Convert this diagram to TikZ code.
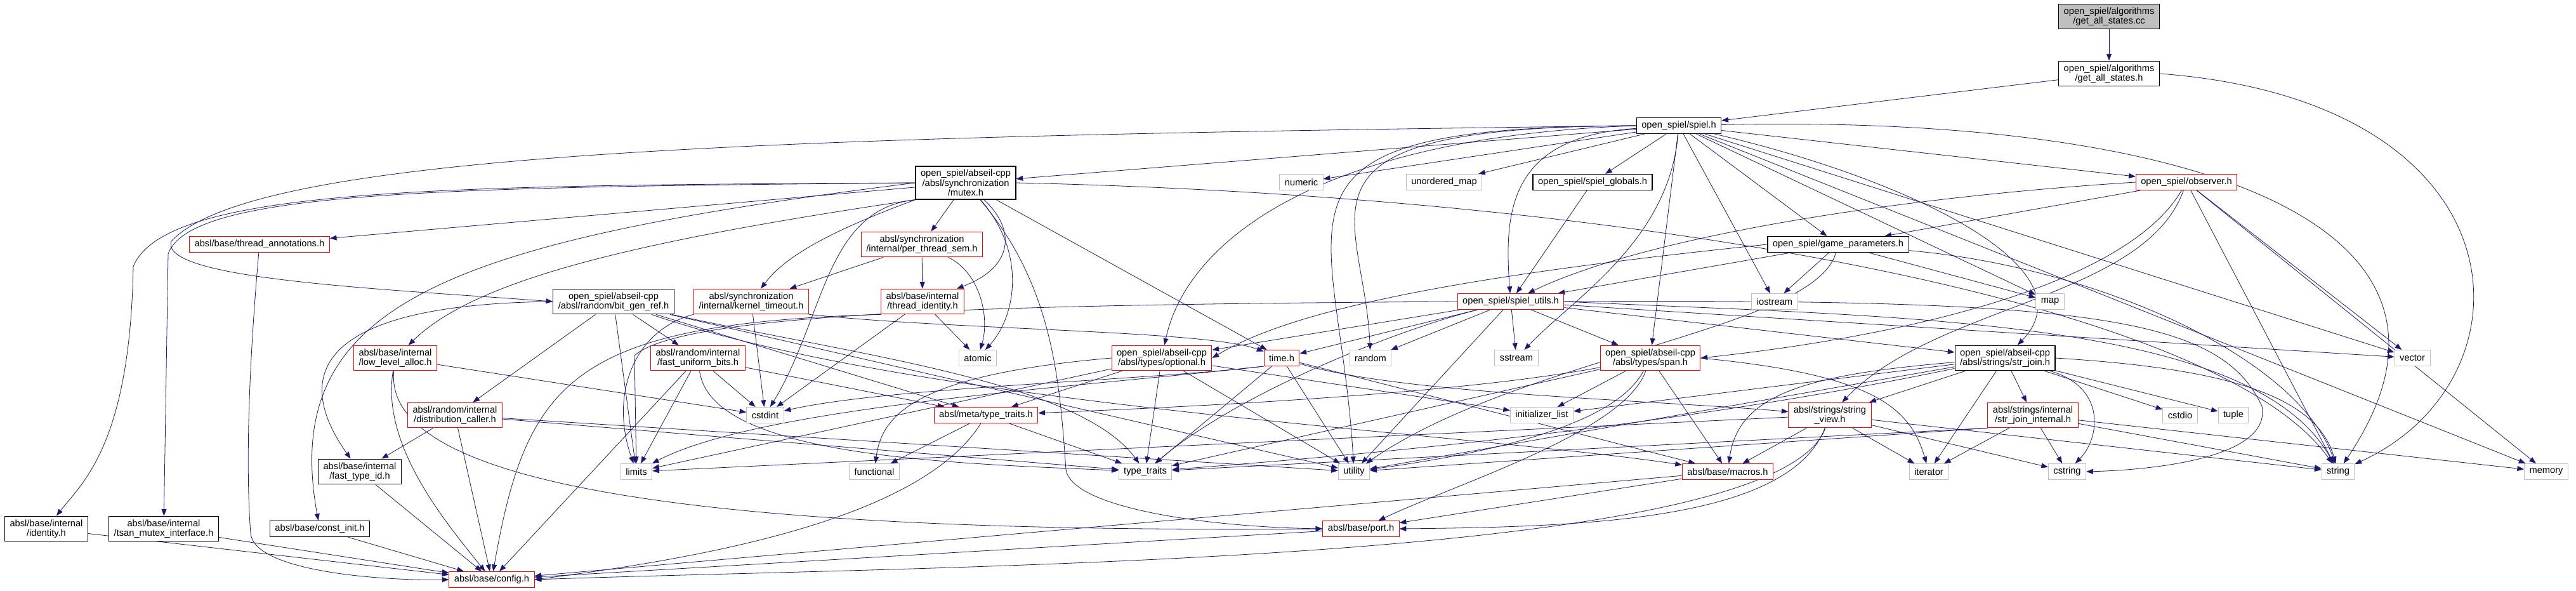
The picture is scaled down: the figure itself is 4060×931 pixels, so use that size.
\documentclass[tikz,border=0pt]{standalone}
\usepackage{fontspec}
\setmainfont{Liberation Sans}
\usepackage{tikz}
\usetikzlibrary{arrows.meta, backgrounds}
\definecolor{incblue}{RGB}{25,25,112}
\definecolor{sysgray}{RGB}{191,191,191}

\begin{document}
\begin{tikzpicture}[x=0.75pt, y=-0.75pt,
        hdr/.style={rectangle, draw=black, line width=0.9pt, fill=white, align=center, inner xsep=6pt, inner ysep=4pt, minimum height=18.75pt, font=\fontsize{11}{11.5}\selectfont},
        redhdr/.style={hdr, draw=red, line width=0.75pt},
        syshdr/.style={hdr, draw=sysgray, line width=0.75pt},
        rootfile/.style={hdr, fill=sysgray},
        inc/.style={draw=incblue, line width=0.6pt, -{Triangle[length=8pt, width=6pt]}}]
    \useasboundingbox (0,0) rectangle (4060,931);

    % files, rank by rank
    \node[rootfile] (cc) at (3324,26) {open\_spiel/algorithms\\/get\_all\_states.cc};
    \node[hdr] (gash) at (3324,116) {open\_spiel/algorithms\\/get\_all\_states.h};
    \node[hdr] (spiel) at (2646,198) {open\_spiel/spiel.h};

    \node[hdr] (mutex) at (1522,288) {open\_spiel/abseil-cpp\\/absl/synchronization\\/mutex.h};
    \node[syshdr] (numeric) at (2051,287) {numeric};
    \node[syshdr] (umap) at (2276,287) {unordered\_map};
    \node[hdr] (globals) at (2510,287) {open\_spiel/spiel\_globals.h};
    \node[redhdr] (observer) at (3446,287) {open\_spiel/observer.h};

    \node[redhdr] (threadann) at (409,385) {absl/base/thread\_annotations.h};
    \node[redhdr] (perthread) at (1453,385) {absl/synchronization\\/internal/per\_thread\_sem.h};
    \node[hdr] (gameparams) at (2897,385) {open\_spiel/game\_parameters.h};

    \node[hdr] (bitgen) at (967,475) {open\_spiel/abseil-cpp\\/absl/random/bit\_gen\_ref.h};
    \node[redhdr] (kernel) at (1184,475) {absl/synchronization\\/internal/kernel\_timeout.h};
    \node[redhdr] (threadid) at (1454,475) {absl/base/internal\\/thread\_identity.h};
    \node[redhdr] (utils) at (2381,475) {open\_spiel/spiel\_utils.h};
    \node[syshdr] (iostream) at (2797,475) {iostream};
    \node[syshdr] (map) at (3231,475) {map};

    \node[redhdr] (lowalloc) at (623,564) {absl/base/internal\\/low\_level\_alloc.h};
    \node[redhdr] (fastunif) at (1100,564) {absl/random/internal\\/fast\_uniform\_bits.h};
    \node[syshdr] (atomic) at (1541,564) {atomic};
    \node[redhdr] (optional) at (1831,564) {open\_spiel/abseil-cpp\\/absl/types/optional.h};
    \node[redhdr] (time) at (2020,564) {time.h};
    \node[syshdr] (random) at (2160,564) {random};
    \node[syshdr] (sstream) at (2390,564) {sstream};
    \node[redhdr] (span) at (2601,564) {open\_spiel/abseil-cpp\\/absl/types/span.h};
    \node[hdr] (strjoin) at (3160,564) {open\_spiel/abseil-cpp\\/absl/strings/str\_join.h};
    \node[syshdr] (vector) at (3802,564) {vector};

    \node[redhdr] (distcaller) at (717,654) {absl/random/internal\\/distribution\_caller.h};
    \node[syshdr] (cstdint) at (1206,654) {cstdint};
    \node[redhdr] (metatt) at (1554,654) {absl/meta/type\_traits.h};
    \node[syshdr] (initlist) at (2430,654) {initializer\_list};
    \node[redhdr] (strview) at (2884,654) {absl/strings/string\\\_view.h};
    \node[redhdr] (sjinternal) at (3204,654) {absl/strings/internal\\/str\_join\_internal.h};
    \node[syshdr] (cstdio) at (3436,654) {cstdio};
    \node[syshdr] (tuple) at (3520,654) {tuple};

    \node[hdr] (fasttypeid) at (567,743) {absl/base/internal\\/fast\_type\_id.h};
    \node[syshdr] (limits) at (1003,743) {limits};
    \node[syshdr] (functional) at (1378,743) {functional};
    \node[syshdr] (typetraits) at (1805,743) {type\_traits};
    \node[syshdr] (utility) at (2134,743) {utility};
    \node[redhdr] (macros) at (2723,743) {absl/base/macros.h};
    \node[syshdr] (iterator) at (3040,743) {iterator};
    \node[syshdr] (cstring) at (3258,743) {cstring};
    \node[syshdr] (string) at (3685,743) {string};
    \node[syshdr] (memory) at (4013,743) {memory};

    \node[hdr] (identity) at (73,833) {absl/base/internal\\/identity.h};
    \node[hdr] (tsan) at (258,833) {absl/base/internal\\/tsan\_mutex\_interface.h};
    \node[hdr] (constinit) at (504,833) {absl/base/const\_init.h};
    \node[redhdr] (port) at (2145,833) {absl/base/port.h};

    \node[redhdr] (config) at (775,913) {absl/base/config.h};

    \begin{scope}[on background layer]
    % top
    \draw[inc] (cc) -- (gash);
    \draw[inc] (gash) -- (spiel);
    \draw[inc] (gash.east) .. controls (3990,160) and (4000,600) .. (string);
    % spiel.h
    \draw[inc] (spiel) -- (mutex);
    \draw[inc] (spiel.west) .. controls (1200,215) and (400,240) .. (270,380) .. controls (250,440) and (600,455) .. (bitgen.west);
    \draw[inc] (spiel) -- (numeric);
    \draw[inc] (spiel) -- (umap);
    \draw[inc] (spiel) -- (globals);
    \draw[inc] (spiel) -- (observer);
    \draw[inc] (spiel) -- (gameparams);
    \draw[inc] (spiel) .. controls (2380,215) and (2370,330) .. (utils);
    \draw[inc] (spiel) -- (iostream);
    \draw[inc] (spiel) -- (map);
    \draw[inc] (spiel) -- (span);
    \draw[inc] (spiel.west) .. controls (2080,215) and (1870,380) .. (optional);
    \draw[inc] (spiel) .. controls (3000,280) and (3300,420) .. (strjoin);
    \draw[inc] (spiel.west) .. controls (2000,200) and (2150,330) .. (random);
    \draw[inc] (spiel) .. controls (2630,380) and (2480,470) .. (sstream);
    \draw[inc] (spiel.west) .. controls (1950,200) and (2110,330) .. (utility);
    \draw[inc] (spiel) -- (vector);
    \draw[inc] (spiel) .. controls (3450,180) and (3950,350) .. (string);
    \draw[inc] (spiel) -- (memory);
    % mutex.h
    \draw[inc] (mutex) -- (threadann);
    \draw[inc] (mutex.west) .. controls (700,292) and (260,295) .. (210,420) .. controls (205,700) and (130,760) .. (identity);
    \draw[inc] (mutex.west) .. controls (700,295) and (300,300) .. (265,400) -- (tsan);
    \draw[inc] (mutex.west) .. controls (700,380) and (440,480) .. (constinit);
    \draw[inc] (mutex.south west) .. controls (1000,380) and (750,440) .. (lowalloc);
    \draw[inc] (mutex) -- (perthread);
    \draw[inc] (mutex.south west) .. controls (1320,360) and (1240,400) .. (kernel);
    \draw[inc] (mutex) .. controls (1600,360) and (1600,420) .. (threadid);
    \draw[inc] (mutex) .. controls (1620,400) and (1600,500) .. (atomic);
    \draw[inc] (mutex.south west) .. controls (1300,330) and (1300,500) .. (cstdint);
    \draw[inc] (mutex) -- (time);
    \draw[inc] (mutex) .. controls (1660,450) and (1670,600) .. (1680,740) .. controls (1690,800) and (1900,830) .. (port.west);
    \draw[inc] (mutex.east) .. controls (2600,310) and (3500,480) .. (string);
    % synchronization internals
    \draw[inc] (perthread) -- (kernel);
    \draw[inc] (perthread) -- (threadid);
    \draw[inc] (perthread) .. controls (1545,430) and (1560,500) .. (atomic);
    \draw[inc] (kernel) -- (cstdint);
    \draw[inc] (kernel.south east) .. controls (1500,520) and (1900,520) .. (time);
    \draw[inc] (kernel.south west) .. controls (1000,520) and (960,620) .. (limits);
    \draw[inc] (threadid) -- (atomic);
    \draw[inc] (threadid) -- (cstdint);
    \draw[inc] (threadid.south west) .. controls (900,510) and (830,600) .. (config);
    % bit_gen_ref.h
    \draw[inc] (bitgen.west) .. controls (450,480) and (480,620) .. (fasttypeid);
    \draw[inc] (bitgen) -- (distcaller);
    \draw[inc] (bitgen) -- (limits);
    \draw[inc] (bitgen) -- (fastunif);
    \draw[inc] (bitgen) -- (metatt);
    \draw[inc] (bitgen) .. controls (1350,560) and (1700,600) .. (typetraits);
    \draw[inc] (bitgen) -- (utility);
    \draw[inc] (bitgen) .. controls (1450,640) and (2300,680) .. (macros);
    % random and base internals
    \draw[inc] (lowalloc) -- (cstdint);
    \draw[inc] (lowalloc) .. controls (600,700) and (700,820) .. (config);
    \draw[inc] (lowalloc) .. controls (600,780) and (1200,840) .. (port.west);
    \draw[inc] (fastunif) -- (limits);
    \draw[inc] (fastunif) -- (config);
    \draw[inc] (fastunif) -- (cstdint);
    \draw[inc] (fastunif) .. controls (1120,720) and (1500,730) .. (typetraits);
    \draw[inc] (fastunif) -- (metatt);
    \draw[inc] (distcaller) -- (fasttypeid);
    \draw[inc] (distcaller) -- (config);
    \draw[inc] (distcaller) -- (typetraits);
    \draw[inc] (distcaller) -- (utility);
    % meta, optional, time
    \draw[inc] (metatt) -- (functional);
    \draw[inc] (metatt) -- (typetraits);
    \draw[inc] (metatt) .. controls (1450,820) and (1100,880) .. (config.east);
    \draw[inc] (optional) -- (metatt);
    \draw[inc] (optional) -- (typetraits);
    \draw[inc] (optional.west) .. controls (1450,590) and (1390,650) .. (functional);
    \draw[inc] (optional) -- (limits);
    \draw[inc] (optional) -- (initlist);
    \draw[inc] (optional) -- (utility);
    \draw[inc] (time.south west) .. controls (1800,600) and (1400,610) .. (cstdint);
    \draw[inc] (time.south west) .. controls (1700,610) and (1200,640) .. (limits);
    \draw[inc] (time) -- (typetraits);
    \draw[inc] (time) -- (utility);
    \draw[inc] (time) -- (macros);
    \draw[inc] (time) .. controls (2200,620) and (2600,630) .. (strview);
    % span.h
    \draw[inc] (span) -- (initlist);
    \draw[inc] (span.east) .. controls (2950,590) and (3010,640) .. (iterator);
    \draw[inc] (span) -- (typetraits);
    \draw[inc] (span) .. controls (2540,680) and (2300,720) .. (utility);
    \draw[inc] (span) -- (macros);
    \draw[inc] (span) .. controls (2560,680) and (2300,760) .. (port);
    \draw[inc] (span) .. controls (2300,620) and (1900,640) .. (metatt);
    % str_join.h
    \draw[inc] (strjoin) -- (strview);
    \draw[inc] (strjoin) -- (sjinternal);
    \draw[inc] (strjoin) -- (cstdio);
    \draw[inc] (strjoin) -- (tuple);
    \draw[inc] (strjoin) -- (iterator);
    \draw[inc] (strjoin) .. controls (3320,610) and (3310,690) .. (cstring);
    \draw[inc] (strjoin.east) .. controls (3500,580) and (3650,620) .. (string);
    \draw[inc] (strjoin) .. controls (2850,590) and (2740,620) .. (macros);
    \draw[inc] (strjoin) -- (utility);
    \draw[inc] (strjoin) -- (initlist);
    \draw[inc] (strjoin) .. controls (2600,680) and (2100,720) .. (typetraits);
    % str_join_internal.h, string_view.h
    \draw[inc] (sjinternal) -- (iterator);
    \draw[inc] (sjinternal) -- (cstring);
    \draw[inc] (sjinternal) -- (string);
    \draw[inc] (sjinternal) -- (memory);
    \draw[inc] (sjinternal.south west) -- (typetraits);
    \draw[inc] (sjinternal.south west) -- (utility);
    \draw[inc] (strview) -- (macros);
    \draw[inc] (strview) .. controls (2820,820) and (2500,830) .. (port.east);
    \draw[inc] (strview) .. controls (2800,890) and (1500,890) .. (config.east);
    \draw[inc] (strview) -- (iterator);
    \draw[inc] (strview) -- (cstring);
    \draw[inc] (strview) -- (string);
    \draw[inc] (strview) -- (limits);
    % macros, port and the leaves into config.h
    \draw[inc] (macros) -- (port);
    \draw[inc] (macros) -- (config);
    \draw[inc] (port) -- (config);
    \draw[inc] (fasttypeid) -- (config);
    \draw[inc] (identity) -- (config);
    \draw[inc] (tsan) -- (config);
    \draw[inc] (constinit) -- (config);
    \draw[inc] (threadann) .. controls (390,600) and (388,750) .. (395,840) .. controls (400,900) and (600,915) .. (config.west);
    % spiel_utils.h, observer.h, game_parameters.h
    \draw[inc] (globals) -- (utils);
    \draw[inc] (observer.west) .. controls (3000,310) and (2600,370) .. (utils);
    \draw[inc] (observer) -- (gameparams);
    \draw[inc] (observer) .. controls (3350,450) and (3000,530) .. (span.east);
    \draw[inc] (observer) .. controls (3380,470) and (3050,480) .. (strview);
    \draw[inc] (observer) -- (vector);
    \draw[inc] (observer) -- (string);
    \draw[inc] (observer) -- (memory);
    \draw[inc] (gameparams) -- (utils);
    \draw[inc] (gameparams.west) .. controls (2350,430) and (2050,480) .. (optional.east);
    \draw[inc] (gameparams) -- (iostream);
    \draw[inc] (gameparams) -- (map);
    \draw[inc] (gameparams) .. controls (3300,420) and (3620,560) .. (string);
    \draw[inc] (gameparams) .. controls (2860,520) and (2400,560) .. (utility);
    \draw[inc] (utils) -- (time);
    \draw[inc] (utils) -- (random);
    \draw[inc] (utils) -- (sstream);
    \draw[inc] (utils) -- (span);
    \draw[inc] (utils) -- (utility);
    \draw[inc] (utils) -- (strjoin);
    \draw[inc] (utils) -- (vector);
    \draw[inc] (utils) -- (optional);
    \draw[inc] (utils) .. controls (2200,520) and (1950,620) .. (typetraits);
    \draw[inc] (utils.west) .. controls (1600,480) and (1080,490) .. (1000,560) -- (limits);
    \draw[inc] (utils.east) .. controls (3000,500) and (3550,500) .. (string);
    \draw[inc] (utils.east) .. controls (3300,470) and (3500,500) .. (3565,640) .. controls (3580,720) and (3400,740) .. (cstring.east);
    \end{scope}
\end{tikzpicture}
\end{document}
